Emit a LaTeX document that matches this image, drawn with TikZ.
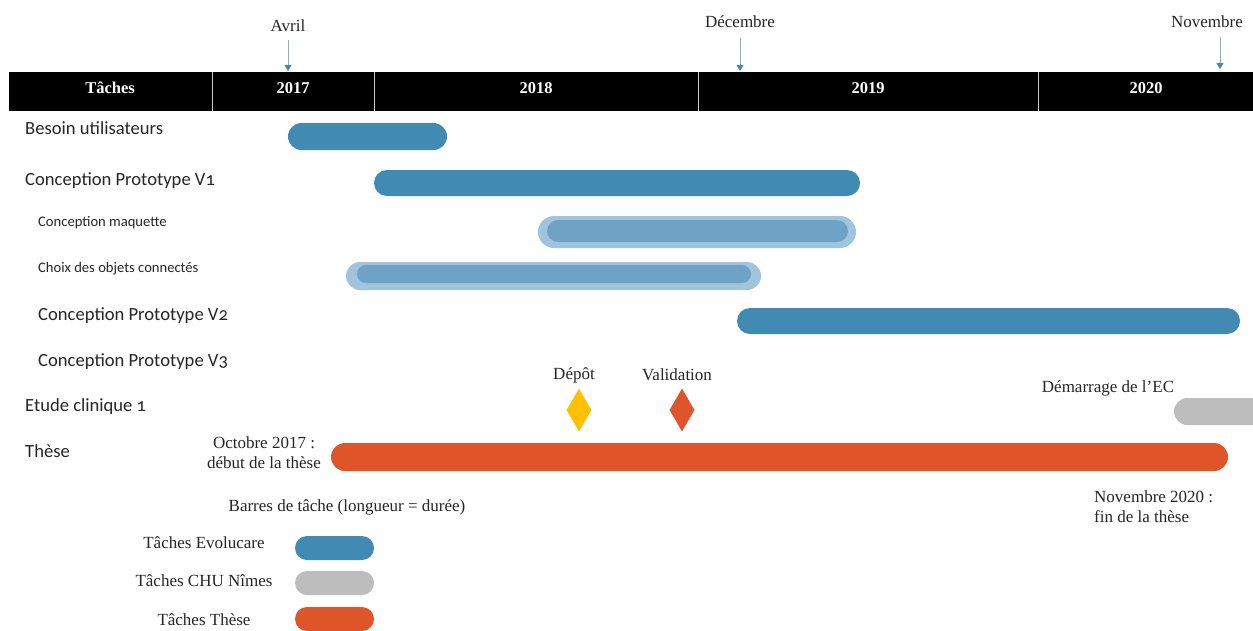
\documentclass[tikz,border=0pt]{standalone}
\usepackage{fontspec}
\setmainfont{Liberation Serif}
\newfontfamily\lblfont[Numbers=OldStyle]{Carlito}
\usetikzlibrary{arrows.meta,shapes.geometric}
\definecolor{evo}{HTML}{418AB3}
\definecolor{evolight}{HTML}{A0C4DC}
\definecolor{evomid}{HTML}{6FA3C6}
\definecolor{chu}{HTML}{BDBDBD}
\definecolor{these}{HTML}{E0542A}
\definecolor{gold}{HTML}{FFC000}
\definecolor{arrowblue}{HTML}{7FB1D3}
\definecolor{tipblue}{HTML}{3F88B8}
\definecolor{txt}{HTML}{262626}
\tikzset{
  serif/.style={font=\fontsize{17}{20}\selectfont, text=txt, inner sep=0pt},
  head/.style={font=\bfseries\fontsize{16.5}{18}\selectfont, text=white, inner sep=0pt},
  lbl/.style={font=\lblfont\fontsize{18.6}{20}\selectfont, text=txt, anchor=west, inner sep=0pt},
  sublbl/.style={font=\lblfont\fontsize{14.6}{16}\selectfont, text=txt, anchor=west, inner sep=0pt},
  montharrow/.style={draw=arrowblue, line width=0.9pt, -{Triangle[width=7pt,length=6pt,color=tipblue]}},
  milestone/.style={diamond, minimum width=25pt, minimum height=43pt, inner sep=0pt},
}
\begin{document}
\begin{tikzpicture}[x=1pt,y=-1pt]
\useasboundingbox (0,0) rectangle (1253,630);
\clip (0,0) rectangle (1253,630);
\fill[white] (0,0) rectangle (1253,630);
% header
\fill[black] (9,72) rectangle (1260,111);
\foreach \xx in {212,374,698,1038} \draw[white!80!black, line width=1pt] (\xx,72) -- (\xx,111);
\node[head] (hT) at (110,88) {Tâches};
\node[head] (h17) at (293,88) {2017};
\node[head] (h18) at (536,88) {2018};
\node[head] (h19) at (868,88) {2019};
\node[head] (h20) at (1146,88) {2020};
% month markers
\node[serif] (avril) at (288,26) {Avril};
\coordinate (avrilE) at (288,71);
\draw[montharrow] (288,40) -- (avrilE);
\node[serif] (dec) at (740,22) {Décembre};
\coordinate (decE) at (740,71);
\draw[montharrow] (740,38) -- (decE);
\node[serif] (nov) at (1207,22) {Novembre};
\coordinate (novE) at (1220,69);
\draw[montharrow] (1220,37) -- (novE);
% row labels
\node[lbl] (r1) at (25,128) {Besoin utilisateurs};
\node[lbl] (r2) at (25,181) {Conception Prototype V1};
\node[sublbl] (r3) at (38,223) {Conception maquette};
\node[sublbl] (r4) at (38,269) {Choix des objets connectés};
\node[lbl] (r5) at (38,316) {Conception Prototype V2};
\node[lbl] (r6) at (38,362) {Conception Prototype V3};
\node[lbl] (r7) at (25,407) {Etude clinique 1};
\node[lbl] (r8) at (25,451) {Thèse};
% bars
\fill[evo, rounded corners=13.5pt] (288,123) rectangle (447,150);
\fill[evo, rounded corners=13pt] (374,170) rectangle (860,196);
\fill[evolight, rounded corners=16pt] (538,216) rectangle (856,248);
\fill[evomid, rounded corners=11pt] (547,220) rectangle (848,242);
\fill[evolight, rounded corners=14pt] (346,262) rectangle (761,290);
\fill[evomid, rounded corners=9pt] (357,265) rectangle (751,283);
\fill[evo, rounded corners=13pt] (737,308) rectangle (1240,334);
\fill[chu, rounded corners=13.5pt] (1174,398) rectangle (1290,425);
\fill[these, rounded corners=14pt] (331,443) rectangle (1228,471);
% milestones
\node[serif] (depot) at (574,375) {Dépôt};
\node[milestone, fill=gold] (depotD) at (579,410) {};
\node[serif] (valid) at (677,375) {Validation};
\node[milestone, fill=these] (validD) at (682,410) {};
\node[serif] (ec) at (1108,388) {Démarrage de l’EC};
% thesis annotations
\node[serif, align=center] (oct) at (264,453) {Octobre 2017 :\\début de la thèse};
\node[serif, align=left, anchor=west] (fin) at (1094,507) {Novembre 2020 :\\fin de la thèse};
% legend
\node[serif] (leg) at (347,507) {Barres de tâche (longueur = durée)};
\node[serif] (l1) at (204,543) {Tâches Evolucare};
\fill[evo, rounded corners=12pt] (295,536) rectangle (374,560);
\node[serif] (l2) at (204,581) {Tâches CHU Nîmes};
\fill[chu, rounded corners=12pt] (295,571) rectangle (374,595);
\node[serif] (l3) at (204,620) {Tâches Thèse};
\fill[these, rounded corners=12pt] (295,607) rectangle (374,631);
\end{tikzpicture}
\end{document}
